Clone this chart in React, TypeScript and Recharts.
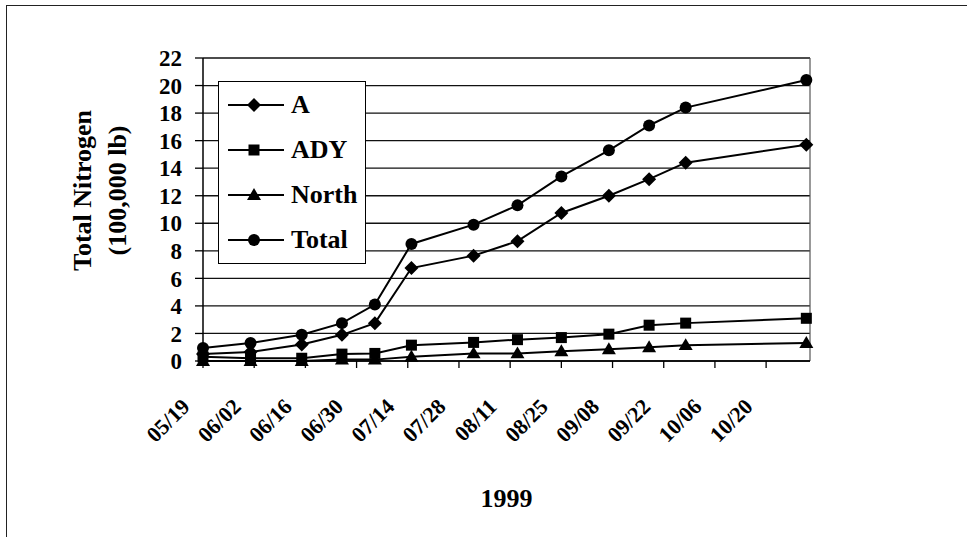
import React from 'react';
import {
  LineChart,
  Line,
  XAxis,
  YAxis,
  CartesianGrid,
  Legend,
  ReferenceLine,
  Label,
} from 'recharts';

// sampling dates (1999) and the values, in 100,000 lb
const sampleDates = ['05/19', '06/01', '06/15', '06/26', '07/05', '07/15', '08/01', '08/13', '08/25', '09/07', '09/18', '09/28', '10/31'];
const seriesA = [0.5, 0.65, 1.2, 1.9, 2.75, 6.75, 7.65, 8.7, 10.75, 12.0, 13.2, 14.4, 15.7];
const seriesADY = [0.3, 0.2, 0.2, 0.5, 0.55, 1.15, 1.35, 1.55, 1.7, 1.95, 2.6, 2.75, 3.1];
const seriesNorth = [0, 0, 0, 0.1, 0.1, 0.3, 0.55, 0.55, 0.7, 0.85, 1.0, 1.15, 1.3];
const seriesTotal = [0.95, 1.3, 1.9, 2.75, 4.1, 8.5, 9.9, 11.3, 13.4, 15.3, 17.1, 18.4, 20.4];

const xTickLabels = ['05/19', '06/02', '06/16', '06/30', '07/14', '07/28', '08/11', '08/25', '09/08', '09/22', '10/06', '10/20'];
const xEnd = '11/01';
const yTicks = [0, 2, 4, 6, 8, 10, 12, 14, 16, 18, 20, 22];

const series = [
  { key: 'A', shape: 'diamond' },
  { key: 'ADY', shape: 'square' },
  { key: 'North', shape: 'triangle' },
  { key: 'Total', shape: 'circle' },
];

const DAY = 86400000;
const day0 = Date.UTC(1999, 4, 19);
const toDay = (s: string) => {
  const [m, d] = s.split('/').map(Number);
  return Math.round((Date.UTC(1999, m - 1, d) - day0) / DAY);
};
const fmtDay = (n: number) => {
  const dt = new Date(day0 + n * DAY);
  const mm = String(dt.getUTCMonth() + 1).padStart(2, '0');
  const dd = String(dt.getUTCDate()).padStart(2, '0');
  return `${mm}/${dd}`;
};

const data = sampleDates.map((d, i) => ({
  day: toDay(d),
  A: seriesA[i],
  ADY: seriesADY[i],
  North: seriesNorth[i],
  Total: seriesTotal[i],
}));

const xTicks = xTickLabels.map(toDay);
const xMax = toDay(xEnd);

const serif = '"Liberation Serif", "Times New Roman", serif';

function MarkerShape({ cx, cy, shape }: { cx: number; cy: number; shape: string }) {
  if (cx == null || cy == null) return null;
  if (shape === 'diamond') {
    const r = 7;
    return <polygon points={`${cx},${cy - r} ${cx + r},${cy} ${cx},${cy + r} ${cx - r},${cy}`} fill="#000" />;
  }
  if (shape === 'square') {
    const r = 5.5;
    return <rect x={cx - r} y={cy - r} width={r * 2} height={r * 2} fill="#000" />;
  }
  if (shape === 'triangle') {
    const r = 7;
    return <polygon points={`${cx},${cy - r} ${cx + r},${cy + r * 0.7} ${cx - r},${cy + r * 0.7}`} fill="#000" />;
  }
  return <circle cx={cx} cy={cy} r={6} fill="#000" />;
}

const XTick = ({ x, y, payload }: any) => (
  <g transform={`translate(${x - 12},${y + 38})`}>
    <text
      textAnchor="end"
      transform="rotate(-45)"
      fontFamily={serif}
      fontWeight="bold"
      fontSize={22}
      fill="#000"
    >
      {fmtDay(payload.value)}
    </text>
  </g>
);

const YTitle = ({ viewBox }: any) => {
  const cy = viewBox.y + viewBox.height / 2 - 19;
  return (
    <g fontFamily={serif} fontWeight="bold" fontSize={26} fill="#000">
      <text x={82} y={cy} textAnchor="middle" dominantBaseline="central" transform={`rotate(-90, 82, ${cy})`}>
        Total Nitrogen
      </text>
      <text x={117} y={cy} textAnchor="middle" dominantBaseline="central" transform={`rotate(-90, 117, ${cy})`}>
        (100,000 lb)
      </text>
    </g>
  );
};

const XTitle = ({ viewBox }: any) => (
  <text
    x={viewBox.x + viewBox.width / 2}
    y={viewBox.y + 137}
    textAnchor="middle"
    dominantBaseline="central"
    fontFamily={serif}
    fontWeight="bold"
    fontSize={26}
    fill="#000"
  >
    1999
  </text>
);

const LegendBox = () => (
  <div
    style={{
      width: 146,
      height: 181,
      border: '1.5px solid #000',
      background: '#fff',
      boxSizing: 'content-box',
    }}
  >
    {series.map((s) => (
      <div key={s.key} style={{ height: 45, display: 'flex', alignItems: 'center' }}>
        <svg width={56} height={20} style={{ marginLeft: 9, marginRight: 7 }}>
          <line x1={0} y1={10} x2={56} y2={10} stroke="#000" strokeWidth={2} />
          <MarkerShape cx={26} cy={10} shape={s.shape} />
        </svg>
        <span style={{ fontFamily: serif, fontWeight: 'bold', fontSize: 26, color: '#000' }}>{s.key}</span>
      </div>
    ))}
  </div>
);

export default function App() {
  return (
    <div style={{ position: 'absolute', left: 0, top: 0, width: 967, height: 537, background: '#fff', overflow: 'hidden' }}>
      <div
        style={{
          position: 'absolute',
          left: 6,
          top: 5,
          width: 1000,
          height: 600,
          borderTop: '1.5px solid #222',
          borderLeft: '1.5px solid #222',
        }}
      />
      <LineChart width={967} height={537} data={data} margin={{ top: 58, right: 157, bottom: 0, left: 0 }}>
        <CartesianGrid horizontal vertical={false} stroke="#111" strokeWidth={1.3} />
        <XAxis
          dataKey="day"
          type="number"
          domain={[0, xMax]}
          ticks={xTicks}
          interval={0}
          height={176}
          tickSize={7}
          tickMargin={2}
          tick={<XTick />}
          axisLine={{ stroke: '#000', strokeWidth: 1.5 }}
          tickLine={{ stroke: '#000', strokeWidth: 1.3 }}
        >
          <Label content={<XTitle />} />
        </XAxis>
        <YAxis
          type="number"
          domain={[0, 22]}
          ticks={yTicks}
          interval={0}
          width={203}
          tickSize={8}
          tickMargin={13}
          tick={{ fontFamily: serif, fontWeight: 'bold', fontSize: 23, fill: '#000' }}
          axisLine={{ stroke: '#000', strokeWidth: 1.5 }}
          tickLine={{ stroke: '#000', strokeWidth: 1.3 }}
        >
          <Label content={<YTitle />} />
        </YAxis>
        <ReferenceLine x={xMax} stroke="#555" strokeWidth={1.2} />
        <Legend
          layout="vertical"
          align="center"
          verticalAlign="middle"
          content={<LegendBox />}
          wrapperStyle={{ position: 'absolute', left: 218, top: 81, width: 149, height: 184 }}
        />
        {series.map((s) => (
          <Line
            key={s.key}
            dataKey={s.key}
            type="linear"
            stroke="#000"
            strokeWidth={2}
            isAnimationActive={false}
            dot={(p: any) => <MarkerShape key={`${s.key}-${p.index}`} cx={p.cx} cy={p.cy} shape={s.shape} />}
            activeDot={false}
          />
        ))}
      </LineChart>
    </div>
  );
}
